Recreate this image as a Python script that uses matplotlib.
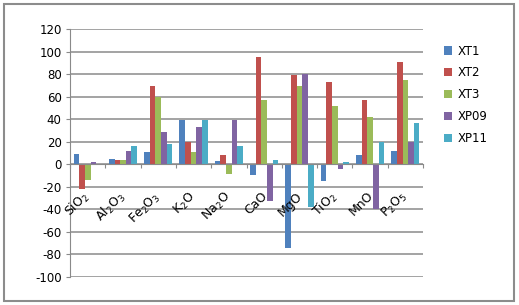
import matplotlib.pyplot as plt
import matplotlib.patches as patches
import numpy as np

plt.rcParams["font.family"] = "DejaVu Sans"
plt.rcParams["mathtext.default"] = "regular"
plt.rcParams["axes.unicode_minus"] = False

# data
oxides = [r"SiO$_2$", r"Al$_2$O$_3$", r"Fe$_2$O$_3$", r"K$_2$O", r"Na$_2$O",
          "CaO", "MgO", r"TiO$_2$", "MnO", r"P$_2$O$_5$"]
series = ["XT1", "XT2", "XT3", "XP09", "XP11"]
xt1 = [9, 5, 11, 39, 3, -10, -74, -15, 8, 12]
xt2 = [-22, 4, 69, 20, 8, 95, 79, 73, 57, 91]
xt3 = [-14, 4, 60, 11, -9, 57, 69, 52, 42, 75]
xp09 = [2, 12, 29, 33, 39, -33, 80, -4, -40, 20]
xp11 = [0, 16, 18, 39, 16, 4, -38, 2, 20, 37]
colors = ["#4F81BD", "#C0504D", "#9BBB59", "#8064A2", "#4BACC6"]

fig = plt.figure(figsize=(5.19, 3.05), dpi=100)
ax = fig.add_axes([0.135, 0.092, 0.68, 0.813])

# outer chart border
fig.patches.append(patches.Rectangle((4 / 519, 4 / 305), 510 / 519, 297 / 305,
                                     transform=fig.transFigure, fill=False,
                                     edgecolor="#8C8C8C", linewidth=1.5))

x = np.arange(len(oxides))
w = 0.16
for k, (vals, name, c) in enumerate(zip([xt1, xt2, xt3, xp09, xp11], series, colors)):
    ax.bar(x - 0.4 + w * (k + 0.5), vals, width=w, color=c, label=name,
           edgecolor="none", zorder=3)

ax.set_xlim(-0.5, len(oxides) - 0.5)
ax.set_ylim(-100, 120)
ax.set_yticks(np.arange(-100, 121, 20))
ax.yaxis.grid(True, color="#8A8A8A", linewidth=1.1, zorder=0)
ax.tick_params(axis="y", labelsize=8.5, length=3, color="#8A8A8A", pad=3)

for s in ["top", "right"]:
    ax.spines[s].set_visible(False)
ax.spines["left"].set_color("#8A8A8A")
ax.spines["bottom"].set_position(("data", 0))
ax.spines["bottom"].set_color("#8A8A8A")
ax.spines["bottom"].set_zorder(4)

ax.set_xticks(np.arange(-0.5, len(oxides), 1.0))
ax.set_xticklabels([])
ax.tick_params(axis="x", length=3, color="#8A8A8A", direction="out")

for i, lab in enumerate(oxides):
    ax.annotate(lab, xy=(i, 0), xytext=(4, -18), textcoords="offset points",
                ha="right", va="top", rotation=45, fontsize=9)

ax.legend(loc="upper left", bbox_to_anchor=(1.03, 0.98), frameon=False,
          fontsize=8.5, handlelength=0.7, handleheight=0.7,
          handletextpad=0.4, labelspacing=0.75)

fig.savefig("out.png", dpi=100)
